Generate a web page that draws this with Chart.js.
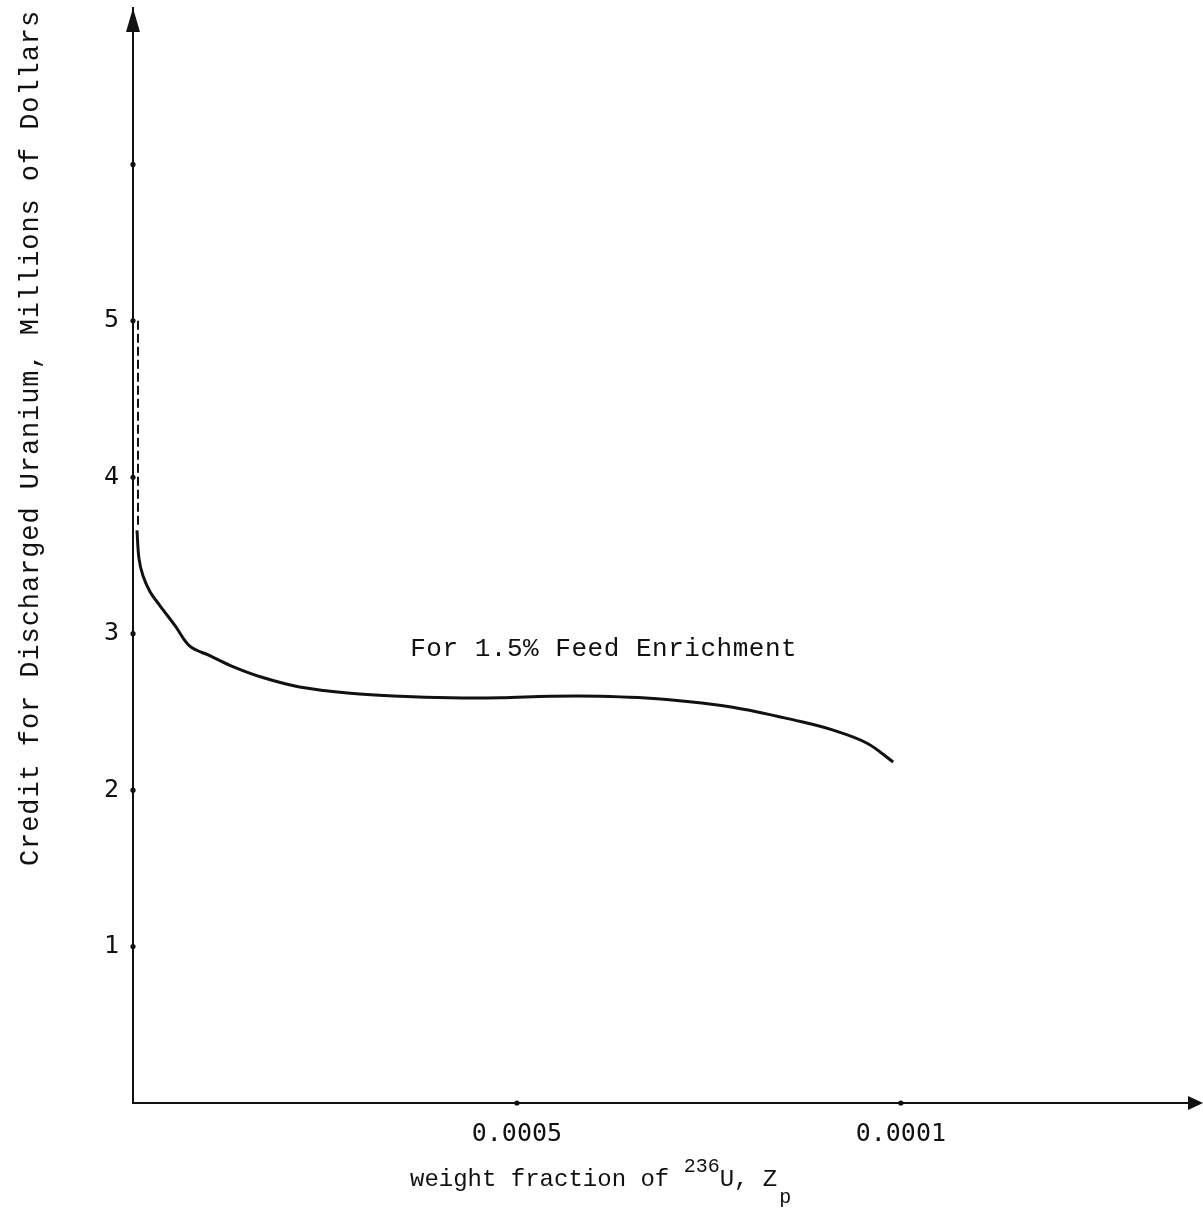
<!DOCTYPE html>
<html>
<head>
<meta charset="utf-8">
<script src="https://cdn.jsdelivr.net/npm/chart.js@4.4.1/dist/chart.umd.min.js"></script>
<style>
  html, body { margin: 0; padding: 0; background: #ffffff; }
  #wrap { position: relative; width: 1203px; height: 1209px; }
</style>
</head>
<body>
<div id="wrap"><canvas id="c"></canvas></div>
<script>
// ---- data ----
const curveX = [0.0000052, 0.0000078, 0.000013, 0.000022, 0.000035, 0.000055, 0.000074, 0.000100,
                0.000130, 0.000169, 0.000217, 0.000283, 0.000348, 0.000413, 0.000478, 0.000543,
                0.000608, 0.000695, 0.000781, 0.000868, 0.000911, 0.000956, 0.000990];
const curveY = [3.66, 3.48, 3.37, 3.27, 3.18, 3.05, 2.92, 2.86,
                2.79, 2.72, 2.66, 2.62, 2.60, 2.59, 2.59, 2.60,
                2.60, 2.58, 2.53, 2.44, 2.385, 2.30, 2.18];
const dashedX = [0.0000065, 0.0000065];
const dashedY = [5.0, 3.68];
const xTickValues = [0.0005, 0.001];
const xTickLabels = ['0.0005', '0.0001'];
const yTickValues = [1, 2, 3, 4, 5, 6];
const yTickLabels = ['1', '2', '3', '4', '5', ''];
const yTitle = 'Credit for Discharged Uranium, Millions of Dollars';
const xTitleMain = 'weight fraction of ';
const xTitleSup = '236';
const xTitleRest = 'U, Z';
const xTitleSub = 'p';
const annotationText = 'For 1.5% Feed Enrichment';
const annotationAt = { x: 0.000361, y: 2.86 };

const INK = '#111111';
const TYPE_FONT = '"Liberation Mono", "DejaVu Sans Mono", monospace';
const TICK_FONT = '"DejaVu Sans Mono", "Liberation Mono", monospace';

const decorPlugin = {
  id: 'decor',
  afterDraw(chart) {
    const ctx = chart.ctx;
    const xs = chart.scales.x, ys = chart.scales.y;
    const area = chart.chartArea;
    ctx.save();
    ctx.fillStyle = INK;
    ctx.strokeStyle = INK;
    // tick dots
    yTickValues.forEach(v => {
      ctx.beginPath();
      ctx.arc(area.left, ys.getPixelForValue(v), 2.6, 0, Math.PI * 2);
      ctx.fill();
    });
    xTickValues.forEach(v => {
      ctx.beginPath();
      ctx.arc(xs.getPixelForValue(v), area.bottom, 2.6, 0, Math.PI * 2);
      ctx.fill();
    });
    // y-axis arrow
    ctx.beginPath();
    ctx.moveTo(area.left, area.top);
    ctx.lineTo(area.left - 7, area.top + 24);
    ctx.lineTo(area.left + 7, area.top + 24);
    ctx.closePath();
    ctx.fill();
    // x-axis arrow
    ctx.beginPath();
    ctx.moveTo(area.right + 5, area.bottom);
    ctx.lineTo(area.right - 10, area.bottom - 7);
    ctx.lineTo(area.right - 10, area.bottom + 7);
    ctx.closePath();
    ctx.fill();

    // annotation
    ctx.font = '26px ' + TYPE_FONT;
    ctx.textBaseline = 'alphabetic';
    ctx.textAlign = 'left';
    ctx.letterSpacing = '0px';
    const annNat = ctx.measureText(annotationText).width;
    ctx.letterSpacing = ((387 - annNat) / annotationText.length).toFixed(2) + 'px';
    ctx.fillText(annotationText, xs.getPixelForValue(annotationAt.x), ys.getPixelForValue(annotationAt.y));
    ctx.letterSpacing = '0px';

    // y title (rotated)
    ctx.save();
    ctx.translate(38, 438);
    ctx.rotate(-Math.PI / 2);
    ctx.font = '27px ' + TYPE_FONT;
    const natural = ctx.measureText(yTitle).width;
    const sp = (856 - natural) / yTitle.length;
    ctx.letterSpacing = sp.toFixed(2) + 'px';
    const w = ctx.measureText(yTitle).width;
    ctx.textAlign = 'left';
    ctx.fillText(yTitle, -w / 2, 0);
    ctx.restore();

    // x title with superscript and subscript
    let x = 410;
    const base = 1186;
    ctx.letterSpacing = '0px';
    ctx.font = '24px ' + TYPE_FONT;
    ctx.textAlign = 'left';
    ctx.fillText(xTitleMain, x, base);
    x += ctx.measureText(xTitleMain).width;
    ctx.font = '20px ' + TYPE_FONT;
    ctx.fillText(xTitleSup, x, base - 14);
    x += ctx.measureText(xTitleSup).width;
    ctx.font = '24px ' + TYPE_FONT;
    ctx.fillText(xTitleRest, x, base);
    x += ctx.measureText(xTitleRest).width;
    ctx.font = '20px ' + TYPE_FONT;
    ctx.fillText(xTitleSub, x + 2, base + 17);
    ctx.restore();
  }
};

new Chart(document.getElementById('c'), {
  type: 'scatter',
  data: {
    datasets: [
      {
        data: curveX.map((v, i) => ({ x: v, y: curveY[i] })),
        showLine: true,
        borderColor: INK,
        borderWidth: 3,
        pointRadius: 0,
        tension: 0.35,
        fill: false
      },
      {
        data: dashedX.map((v, i) => ({ x: v, y: dashedY[i] })),
        showLine: true,
        borderColor: INK,
        borderWidth: 2,
        borderDash: [9, 4],
        pointRadius: 0,
        fill: false
      }
    ]
  },
  options: {
    responsive: true,
    maintainAspectRatio: false,
    animation: false,
    layout: { padding: { top: 8, right: 5, bottom: 0, left: 0 } },
    plugins: { legend: { display: false }, tooltip: { enabled: false }, title: { display: false } },
    scales: {
      x: {
        type: 'linear',
        min: 0,
        max: 0.001387,
        afterFit(scale) { scale.height = 106; scale.paddingLeft = 0; scale.paddingRight = 0; },
        afterBuildTicks(scale) { scale.ticks = xTickValues.map(v => ({ value: v })); },
        ticks: {
          color: INK,
          padding: 16,
          maxRotation: 0,
          autoSkip: false,
          font: { family: TICK_FONT, size: 25 },
          callback(value) {
            const i = xTickValues.findIndex(t => Math.abs(t - value) < 1e-9);
            return i >= 0 ? xTickLabels[i] : '';
          }
        },
        grid: { display: false, drawTicks: false },
        border: { display: true, color: INK, width: 2 }
      },
      y: {
        type: 'linear',
        min: 0,
        max: 7,
        afterFit(scale) { scale.width = 133; scale.paddingTop = 0; scale.paddingBottom = 0; },
        afterBuildTicks(scale) { scale.ticks = yTickValues.map(v => ({ value: v })); },
        ticks: {
          color: INK,
          padding: 14,
          autoSkip: false,
          font: { family: TICK_FONT, size: 25 },
          callback(value) {
            const i = yTickValues.indexOf(value);
            return i >= 0 ? yTickLabels[i] : '';
          }
        },
        grid: { display: false, drawTicks: false },
        border: { display: true, color: INK, width: 2 }
      }
    }
  },
  plugins: [decorPlugin]
});
</script>
</body>
</html>
